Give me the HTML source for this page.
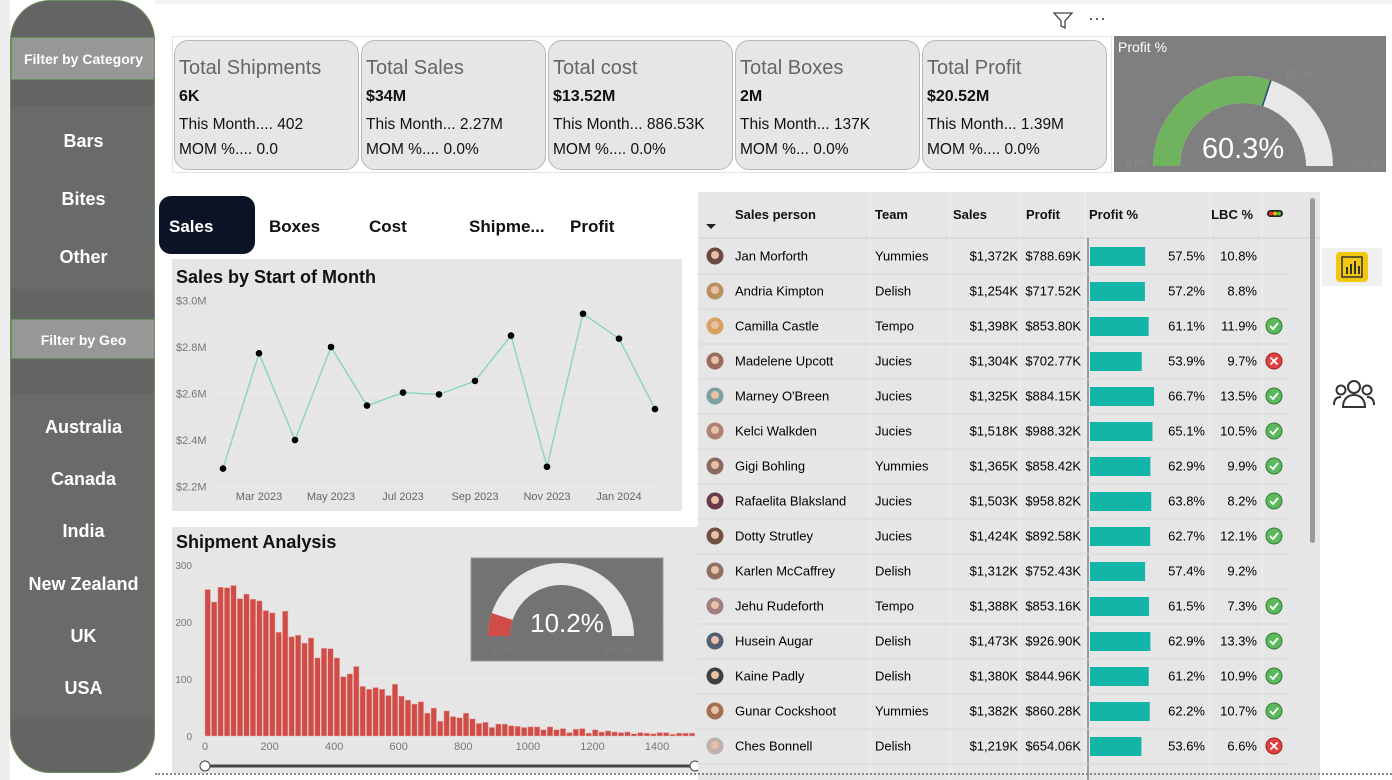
<!DOCTYPE html>
<html><head><meta charset="utf-8">
<style>
*{box-sizing:border-box;margin:0;padding:0}
body{width:1392px;height:780px;background:#fff;font-family:"Liberation Sans","DejaVu Sans",sans-serif;position:relative;overflow:hidden}
.abs{position:absolute}
.side{left:10px;top:0;width:145px;height:773px;background:#646464;border-radius:40px;border:1px solid #6a8f5a;overflow:hidden}
.sbtn{position:absolute;left:0;width:145px;color:#fff;font-weight:bold;font-size:18px;text-align:center}
.hdr{position:absolute;left:0;width:145px;background:#979797;color:#fff;font-weight:bold;font-size:14px;text-align:center;border:1px solid #6a8f5a}
.card{position:absolute;top:40px;width:185px;height:130px;background:#e6e6e6;border:1px solid #b8b8b8;border-radius:14px;padding:16px 0 0 4px;color:#111}
.card .t{font-size:20px;color:#666;margin-bottom:8px}
.card .v{font-size:16px;font-weight:bold;margin-bottom:6px}
.card .l{font-size:15.5px;line-height:25px}
.tab{position:absolute;top:216px;font-size:17px;font-weight:bold;color:#111}
.panel{position:absolute;background:#e6e6e6}
table{border-collapse:collapse;font-size:13px;color:#222}
</style></head><body>
<div class="abs" style="left:0;top:0;width:10px;height:780px;background:#eee"></div>
<div class="abs side">
 <div class="hdr" style="top:36px;height:43px;line-height:43px">Filter by Category</div>
 <div class="abs" style="left:0;top:105px;width:145px;height:183px;background:#6a6a6a"></div>
 <div class="sbtn" style="top:130px">Bars</div>
 <div class="sbtn" style="top:188px">Bites</div>
 <div class="sbtn" style="top:246px">Other</div>
 <div class="hdr" style="top:318px;height:40px;line-height:40px">Filter by Geo</div>
 <div class="abs" style="left:0;top:393px;width:145px;height:325px;background:#6a6a6a"></div>
 <div class="sbtn" style="top:416px">Australia</div>
 <div class="sbtn" style="top:468px">Canada</div>
 <div class="sbtn" style="top:520px">India</div>
 <div class="sbtn" style="top:573px">New Zealand</div>
 <div class="sbtn" style="top:625px">UK</div>
 <div class="sbtn" style="top:677px">USA</div>
</div>
<div class="abs" style="left:155px;top:0;width:1237px;height:4px;background:#f2f2f2"></div>
<svg class="abs" style="left:1053px;top:12px" width="20" height="18"><path d="M1 1h18l-7 8v7l-4 -2v-5z" fill="none" stroke="#444" stroke-width="1.3"/></svg>
<div class="abs" style="left:1088px;top:8px;font-size:18px;color:#444">···</div>
<div class="abs" style="left:172px;top:36px;width:940px;height:137px;border:1px solid #e4e4e4"></div>
<div class="card" style="left:174px"><div class="t">Total Shipments</div><div class="v">6K</div><div class="l">This Month.... 402</div><div class="l">MOM %.... 0.0</div></div>
<div class="card" style="left:361px"><div class="t">Total Sales</div><div class="v">$34M</div><div class="l">This Month... 2.27M</div><div class="l">MOM %.... 0.0%</div></div>
<div class="card" style="left:548px"><div class="t">Total cost</div><div class="v">$13.52M</div><div class="l">This Month... 886.53K</div><div class="l">MOM %.... 0.0%</div></div>
<div class="card" style="left:735px"><div class="t">Total Boxes</div><div class="v">2M</div><div class="l">This Month... 137K</div><div class="l">MOM %... 0.0%</div></div>
<div class="card" style="left:922px"><div class="t">Total Profit</div><div class="v">$20.52M</div><div class="l">This Month... 1.39M</div><div class="l">MOM %.... 0.0%</div></div>

<svg class="abs" style="left:1114px;top:36px" width="272" height="136" id="pg"></svg>

<div class="abs" style="left:159px;top:196px;width:96px;height:58px;background:#0b1426;border-radius:12px;color:#fff;font-size:17px;font-weight:bold;padding:21px 0 0 10px">Sales</div>
<div class="tab" style="left:269px;top:217px">Boxes</div>
<div class="tab" style="left:369px;top:217px">Cost</div>
<div class="tab" style="left:469px;top:217px">Shipme...</div>
<div class="tab" style="left:570px;top:217px">Profit</div>

<div class="panel" style="left:172px;top:259px;width:510px;height:252px"><svg width="510" height="252" id="lc"></svg></div>
<div class="panel" style="left:172px;top:527px;width:530px;height:246px"><svg width="530" height="246" id="hc"></svg></div>

<div class="panel" style="left:698px;top:192px;width:622px;height:588px;overflow:hidden" id="tbl"></div>
<div class="abs" style="left:1310px;top:198px;width:5px;height:345px;background:#999;border-radius:3px"></div>

<div class="abs" style="left:1322px;top:248px;width:60px;height:38px;background:#f0f0f0"><div style="position:absolute;left:14px;top:4px;width:32px;height:30px;background:#f2c811;border-radius:4px"><svg width="32" height="30"><rect x="6" y="5" width="20" height="20" fill="none" stroke="#333" stroke-width="1.5"/><rect x="10" y="15" width="2" height="7" fill="#333"/><rect x="14" y="12" width="2" height="10" fill="#333"/><rect x="18" y="9" width="2" height="13" fill="#333"/><rect x="22" y="14" width="2" height="8" fill="#333"/></svg></div></div>
<svg class="abs" style="left:1332px;top:378px" width="44" height="32"><g fill="none" stroke="#333" stroke-width="2"><circle cx="22" cy="9" r="6"/><path d="M11 29c0-8 5-12 11-12s11 4 11 12z"/><circle cx="9" cy="12" r="4.5"/><path d="M2 27c0-6 3-8 7-8"/><circle cx="35" cy="12" r="4.5"/><path d="M42 27c0-6-3-8-7-8"/></g></svg>
<div class="abs" style="left:155px;top:773px;width:1237px;border-top:2px dotted #888"></div>

<script>
const NS="http://www.w3.org/2000/svg";
function mk(p,t,a){const e=document.createElementNS(NS,t);for(const k in a)e.setAttribute(k,a[k]);p.appendChild(e);return e;}
function arc(cx,cy,ro,ri,a0,a1){const P=(r,a)=>[cx-r*Math.cos(a*Math.PI),cy-r*Math.sin(a*Math.PI)];const[a,b]=P(ro,a0),[c,d]=P(ro,a1),[e,f]=P(ri,a1),[g,h]=P(ri,a0);return`M${a} ${b}A${ro} ${ro} 0 0 1 ${c} ${d}L${e} ${f}A${ri} ${ri} 0 0 0 ${g} ${h}Z`;}

// Profit gauge
const profitPct=60.3, profitTarget=60.0;
const pg=document.getElementById('pg');
mk(pg,'rect',{x:0,y:0,width:272,height:136,fill:'#7f7f7f'});
let t=mk(pg,'text',{x:4,y:16,fill:'#fff','font-size':14});t.textContent='Profit %';
let g1=mk(pg,'path',{d:arc(129,130,90,63,0,1),fill:'#e8e8e8'});

let g2=mk(pg,'path',{d:arc(129,130,90,63,0,profitPct/100),fill:'#70b35f'});

{const a=profitTarget/100*Math.PI;mk(pg,'line',{x1:129-63*Math.cos(a),y1:130-63*Math.sin(a),x2:129-90*Math.cos(a),y2:130-90*Math.sin(a),stroke:'#2a4a7a','stroke-width':1.5});}
t=mk(pg,'text',{x:129,y:122,'text-anchor':'middle',fill:'#fff','font-size':29});t.textContent=profitPct.toFixed(1)+'%';
t=mk(pg,'text',{x:172,y:42,fill:'#8a8a8a','font-size':10});t.textContent=profitTarget.toFixed(1)+'%';
t=mk(pg,'text',{x:12,y:131,fill:'#8a8a8a','font-size':10});t.textContent='0.0%';
t=mk(pg,'text',{x:237,y:131,fill:'#8a8a8a','font-size':10});t.textContent='100.0%';

// Line chart
const months=['Feb 2023','Mar 2023','Apr 2023','May 2023','Jun 2023','Jul 2023','Aug 2023','Sep 2023','Oct 2023','Nov 2023','Dec 2023','Jan 2024','Feb 2024'];
const salesM=[2.277,2.773,2.40,2.80,2.548,2.604,2.596,2.654,2.849,2.285,2.943,2.836,2.533];
const yTicks=[2.2,2.4,2.6,2.8,3.0];
const lc=document.getElementById('lc');
t=mk(lc,'text',{x:4,y:24,fill:'#111','font-size':18,'font-weight':'bold'});t.textContent='Sales by Start of Month';
const ly=v=>227.5-(v-2.2)/0.8*186, lx=i=>51+i*36;
yTicks.forEach(v=>{mk(lc,'line',{x1:40,x2:490,y1:ly(v),y2:ly(v),stroke:'#ececec'});const e=mk(lc,'text',{x:4,y:ly(v)+4,fill:'#777','font-size':11});e.textContent='$'+v.toFixed(1)+'M';});
months.forEach((m,i)=>{if(i%2==1){const e=mk(lc,'text',{x:lx(i),y:241,fill:'#666','font-size':11,'text-anchor':'middle'});e.textContent=m;}});
mk(lc,'polyline',{points:salesM.map((v,i)=>lx(i)+','+ly(v)).join(' '),fill:'none',stroke:'#8fd6b4','stroke-width':1.5});
salesM.forEach((v,i)=>{const c=mk(lc,'circle',{cx:lx(i),cy:ly(v),r:3.3,fill:'#000'});});

// Histogram
const binCounts=[257,235,261,260,264,241,249,240,237,220,216,182,219,174,177,163,172,137,154,153,137,104,109,122,87,82,85,82,71,91,70,63,56,60,40,49,26,44,34,32,40,30,22,24,15,21,21,18,17,15,16,16,11,16,11,13,6,12,13,5,11,7,9,7,6,7,4,6,5,4,6,6,3,5,5,5];
const binWidth=20;
const xTicks=[0,200,400,600,800,1000,1200,1400];
const hTicks=[0,100,200,300];
const hc=document.getElementById('hc');
t=mk(hc,'text',{x:4,y:21,fill:'#111','font-size':18,'font-weight':'bold'});t.textContent='Shipment Analysis';
const hx=v=>33+v*0.3229, hy=v=>209-v*0.57;
hTicks.forEach(v=>{mk(hc,'line',{x1:30,x2:530,y1:hy(v),y2:hy(v),stroke:'#ececec'});const e=mk(hc,'text',{x:20,y:hy(v)+4,fill:'#777','font-size':10,'text-anchor':'end'});e.textContent=v;});
xTicks.forEach(v=>{const e=mk(hc,'text',{x:hx(v),y:223,fill:'#777','font-size':11,'text-anchor':'middle'});e.textContent=v;});
binCounts.forEach((c,i)=>{const x0=hx(i*binWidth),w=binWidth*0.3229;const r=mk(hc,'rect',{x:x0,y:hy(c),width:w-1,height:hy(0)-hy(c),fill:'#d04c46',stroke:'#e8a8a5','stroke-width':0.5});});
const shipPct=10.2;
mk(hc,'rect',{x:299,y:31,width:192,height:103,fill:'#737373',stroke:'#999'});
mk(hc,'path',{d:arc(389,109,73,51,0,1),fill:'#e8e8e8'});
mk(hc,'path',{d:arc(389,109,73,51,0,shipPct/100),fill:'#d04c46'});
t=mk(hc,'text',{x:395,y:105,'text-anchor':'middle',fill:'#fff','font-size':26});t.textContent=shipPct.toFixed(1)+'%';
t=mk(hc,'text',{x:320,y:127,fill:'#7e7e7e','font-size':9});t.textContent='0.0%';
t=mk(hc,'text',{x:432,y:127,fill:'#7e7e7e','font-size':9});t.textContent='100.0%';
mk(hc,'line',{x1:33,x2:523,y1:239,y2:239,stroke:'#444','stroke-width':3});
mk(hc,'circle',{cx:33,cy:239,r:5,fill:'#fff',stroke:'#444'});
mk(hc,'circle',{cx:523,cy:239,r:5,fill:'#fff',stroke:'#444'});

// Table
const names=['Jan Morforth','Andria Kimpton','Camilla Castle','Madelene Upcott','Marney O\'Breen','Kelci Walkden','Gigi Bohling','Rafaelita Blaksland','Dotty Strutley','Karlen McCaffrey','Jehu Rudeforth','Husein Augar','Kaine Padly','Gunar Cockshoot','Ches Bonnell'];
const teams=['Yummies','Delish','Tempo','Jucies','Jucies','Jucies','Yummies','Jucies','Jucies','Delish','Tempo','Delish','Delish','Yummies','Delish'];
const sales=[1372,1254,1398,1304,1325,1518,1365,1503,1424,1312,1388,1473,1380,1382,1219];
const profits=[788.69,717.52,853.80,702.77,884.15,988.32,858.42,958.82,892.58,752.43,853.16,926.90,844.96,860.28,654.06];
const profitPcts=[57.5,57.2,61.1,53.9,66.7,65.1,62.9,63.8,62.7,57.4,61.5,62.9,61.2,62.2,53.6];
const lbc=[10.8,8.8,11.9,9.7,13.5,10.5,9.9,8.2,12.1,9.2,7.3,13.3,10.9,10.7,6.6];
const status=['','','ok','bad','ok','ok','ok','ok','ok','','ok','ok','ok','ok','bad'];
const tb=document.getElementById('tbl');
let h='<svg width="622" height="588" style="position:absolute;left:0;top:0">';
const cols=[172,252,322,387,512,564];
h+='<line x1="0" x2="622" y1="46" y2="46" stroke="#ccc"/>';
h+='<path d="M8 32h10l-5 5z" fill="#222"/>';
const hd=[['Sales person',37,'start'],['Team',177,'start'],['Sales',255,'start'],['Profit',328,'start'],['Profit %',391,'start'],['LBC %',555,'end']];
hd.forEach(x=>h+=`<text x="${x[1]}" y="27" font-size="13" font-weight="bold" fill="#111" text-anchor="${x[2]}">${x[0]}</text>`);
h+='<rect x="569" y="18" width="16" height="7" rx="3.5" fill="#222"/><circle cx="573" cy="21.5" r="2" fill="#e33"/><circle cx="577" cy="21.5" r="2" fill="#fb0"/><circle cx="581" cy="21.5" r="2" fill="#4c4"/>';
cols.forEach(c=>h+=`<line x1="${c}" x2="${c}" y1="0" y2="588" stroke="#f0f0f0"/>`);
h+='<line x1="390" x2="390" y1="46" y2="588" stroke="#555"/>';
const av=['#6b4a44','#b89060','#d9a060','#9a6a5a','#7aa0a0','#b08070','#8a6a60','#6a3a4a','#705040','#907060','#a08080','#506070','#404040','#a07050','#c0b0b0'];
names.forEach((n,i)=>{const y=47+i*35,cy=y+17;
 h+=`<g><line x1="0" x2="592" y1="${y+35}" y2="${y+35}" stroke="#d6d6d6"/>`;
 h+=`<circle cx="17" cy="${cy}" r="8.5" fill="${av[i]}"/><circle cx="17" cy="${cy-1}" r="4" fill="#e8c0a8"/>`;
 h+=`<text x="37" y="${cy+4.5}" font-size="13">${n}</text><text x="177" y="${cy+4.5}" font-size="13">${teams[i]}</text>`;
 h+=`<text x="320" y="${cy+4.5}" font-size="13" text-anchor="end">$${sales[i].toLocaleString('en-US')}K</text>`;
 h+=`<text x="383" y="${cy+4.5}" font-size="13" text-anchor="end">$${profits[i].toFixed(2)}K</text>`;
 h+=`<rect x="392" y="${cy-9}" width="${profitPcts[i]*0.96}" height="19" fill="#12b5a8"/>`;
 h+=`<text x="507" y="${cy+4.5}" font-size="13" text-anchor="end">${profitPcts[i].toFixed(1)}%</text>`;
 h+=`<text x="559" y="${cy+4.5}" font-size="13" text-anchor="end">${lbc[i].toFixed(1)}%</text>`;
 if(status[i]=='ok')h+=`<circle cx="576" cy="${cy}" r="8" fill="#5cb85c" stroke="#2e7d32"/><path d="M572 ${cy} l3 3 l5 -6" fill="none" stroke="#fff" stroke-width="1.8"/>`;
 if(status[i]=='bad')h+=`<circle cx="576" cy="${cy}" r="8" fill="#e04040" stroke="#a02020"/><path d="M572.5 ${cy-3.5}l7 7M579.5 ${cy-3.5}l-7 7" stroke="#fff" stroke-width="1.8"/>`;
 h+='</g>';});
h+='</svg>';tb.innerHTML=h;
</script>
</body></html>
